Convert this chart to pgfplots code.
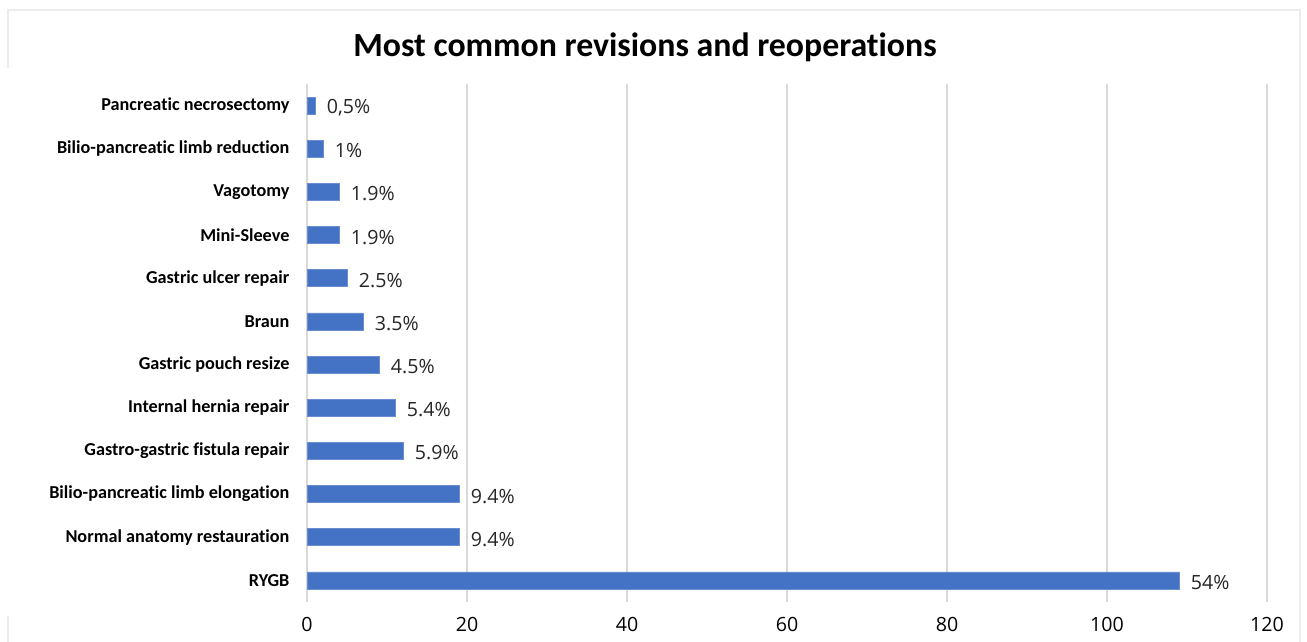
\documentclass[border=0pt]{standalone}
\usepackage{pgfplots}
\pgfplotsset{compat=1.18}
\usepackage{fontspec}
\setmainfont[Ligatures={NoCommon,NoContextual}, RawFeature={-liga;-clig;-dlig}]{Carlito}
\newfontfamily\osans{Open Sans}
\definecolor{barblue}{HTML}{4472C4}
\definecolor{gridgray}{HTML}{D9D9D9}
\begin{document}
\begin{tikzpicture}
\useasboundingbox (0,0) rectangle (653.5pt,321pt);
\draw[gray!15, line width=0.6pt] (4pt,287pt) -- (4pt,316pt) -- (650pt,316pt) -- (650pt,0pt);
\draw[gray!15, line width=0.6pt] (4pt,0pt) -- (4pt,13pt);
\node[font=\bfseries\fontsize{16.9}{20}\selectfont] at (322.5pt,297.5pt) {Most common revisions and reoperations};
\begin{axis}[
  at={(153.5pt,20pt)}, anchor=south west,
  scale only axis, width=480pt, height=259pt,
  xmin=0, xmax=120, ymin=-0.5, ymax=11.5,
  xbar, bar width=8.5pt,
  axis line style={draw=none},
  xmajorgrids, grid style={color=gridgray, line width=0.7pt},
  xtick={0,20,...,120},
  ytick={0,...,11},
  yticklabels={RYGB,Normal anatomy restauration,Bilio-pancreatic limb elongation,Gastro-gastric fistula repair,Internal hernia repair,Gastric pouch resize,Braun,Gastric ulcer repair,Mini-Sleeve,Vagotomy,Bilio-pancreatic limb reduction,Pancreatic necrosectomy},
  major tick style={draw=none},
  yticklabel style={font=\bfseries\fontsize{9.1}{11}\selectfont, xshift=-1pt},
  xticklabel style={font=\osans\fontsize{9.8}{12}\selectfont, yshift=-4pt},
  /pgf/number format/assume math mode=true,
  point meta=explicit symbolic,
  nodes near coords,
  nodes near coords style={font=\osans\fontsize{9.8}{12}\selectfont, anchor=west, xshift=2.5pt, yshift=-1pt, text=black!85},
]
\addplot[fill=barblue, draw=barblue!80!white, line width=0.3pt] coordinates {
  (109,0) [54\%]
  (19,1) [9.4\%]
  (19,2) [9.4\%]
  (12,3) [5.9\%]
  (11,4) [5.4\%]
  (9,5) [4.5\%]
  (7,6) [3.5\%]
  (5,7) [2.5\%]
  (4,8) [1.9\%]
  (4,9) [1.9\%]
  (2,10) [1\%]
  (1,11) [0,5\%]
};
\end{axis}
\end{tikzpicture}
\end{document}
